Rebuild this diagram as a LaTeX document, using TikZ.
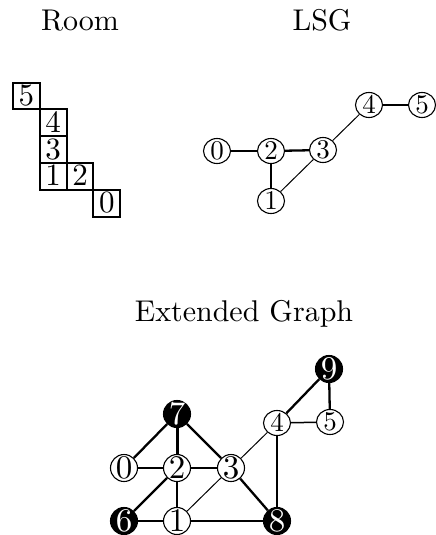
\documentclass[tikz,border=0pt]{standalone}
\usepackage{fontspec}
\setmainfont{lmroman10-regular.otf}
\usetikzlibrary{shapes.geometric}
% digit centred on the node anchor, taking no room of its own
\newcommand{\dg}[1]{\makebox[0pt]{\raisebox{-0.31em}[0pt][0pt]{#1}}}
\begin{document}
\begin{tikzpicture}[x=1pt,y=-1pt,
  title/.style={font=\fontsize{30}{36}\selectfont, anchor=base, inner sep=0},
  roombox/.style={draw, line width=2pt, rectangle, minimum size=26.8pt, inner sep=0,
    font=\fontsize{31}{37}\selectfont},
  lsgnode/.style={draw, ellipse, line width=1.1pt, fill=white, minimum width=27pt,
    minimum height=25pt, inner sep=0, font=\fontsize{27}{32}\selectfont},
  bignode/.style={draw, circle, line width=1.1pt, fill=white, minimum size=27pt,
    inner sep=0, font=\fontsize{33}{39}\selectfont},
  darknode/.style={bignode, fill=black, text=white},
  ethin/.style={line width=1pt},
  emid/.style={line width=1.5pt},
  ethick/.style={line width=2.3pt},
  ewide/.style={line width=3pt}]
\useasboundingbox (0,0) rectangle (436,535);

% titles
\node[title] (troom) at (80,31) {Room};
\node[title] (tlsg) at (322,31) {LSG};
\node[title] (text) at (244,321) {Extended Graph};

% room layout
\node[roombox] (r5) at (26.4,95.9) {\dg{5}};
\node[roombox] (r4) at (53.2,122.7) {\dg{4}};
\node[roombox] (r3) at (53.2,149.5) {\dg{3}};
\node[roombox] (r1) at (53.2,176.3) {\dg{1}};
\node[roombox] (r2) at (80.0,176.3) {\dg{2}};
\node[roombox] (r0) at (106.8,203.1) {\dg{0}};

% LSG
\node[lsgnode] (l0) at (217,151) {\dg{0}};
\node[lsgnode] (l2) at (271,151) {\dg{2}};
\node[lsgnode] (l3) at (323,150) {\dg{3}};
\node[lsgnode] (l1) at (271,201) {\dg{1}};
\node[lsgnode] (l4) at (369,105) {\dg{4}};
\node[lsgnode] (l5) at (422,105) {\dg{5}};
\draw[ethick] (l0) -- (l2);
\draw[ethick] (l2) -- (l3);
\draw[ethick] (l4) -- (l5);
\draw[emid] (l2) -- (l1);
\draw[ethin] (l1) -- (l3);
\draw[ethin] (l3) -- (l4);

% extended graph
\node[darknode] (e7) at (177,414) {\dg{7}};
\node[bignode] (e0) at (124,468) {\dg{0}};
\node[bignode] (e2) at (177,468) {\dg{2}};
\node[bignode] (e3) at (231,468) {\dg{3}};
\node[darknode] (e6) at (124,521) {\dg{6}};
\node[bignode] (e1) at (177,521) {\dg{1}};
\node[darknode] (e8) at (277,521) {\dg{8}};
\node[lsgnode] (e4) at (277,423) {\dg{4}};
\node[lsgnode] (e5) at (330,422) {\dg{5}};
\node[darknode] (e9) at (329,369) {\dg{9}};
\draw[ethick] (e7) -- (e0);
\draw[ewide] (e7) -- (e2);
\draw[ethick] (e7) -- (e3);
\draw[emid] (e0) -- (e2);
\draw[emid] (e2) -- (e3);
\draw[emid] (e2) -- (e1);
\draw[ethick] (e2) -- (e6);
\draw[ethick] (e6) -- (e1);
\draw[ethin] (e1) -- (e3);
\draw[ethick] (e1) -- (e8);
\draw[ethick] (e3) -- (e8);
\draw[ethin] (e3) -- (e4);
\draw[ethick] (e4) -- (e8);
\draw[emid] (e4) -- (e5);
\draw[ethick] (e4) -- (e9);
\draw[ethick] (e9) -- (e5);
\end{tikzpicture}
\end{document}
